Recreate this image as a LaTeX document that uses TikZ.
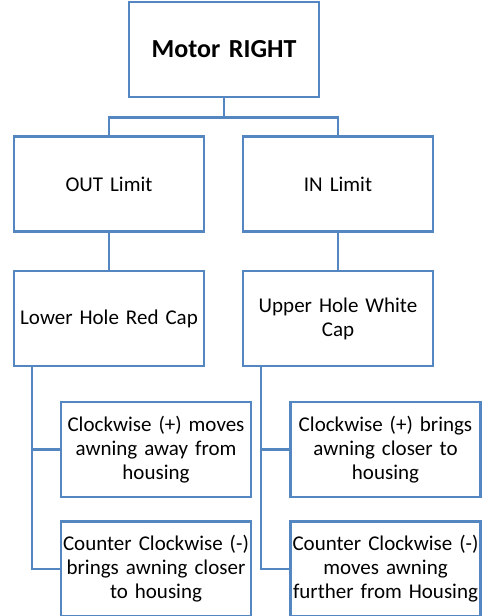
\documentclass[tikz,border=0pt]{standalone}
\usepackage{fontspec}
\setmainfont{Carlito}
\usetikzlibrary{positioning}

\begin{document}
\begin{tikzpicture}[x=1pt,y=1pt,node distance=3cm,on grid,
  box/.style={draw=boxblue,line width=2.5pt,rectangle,minimum width=190pt,
    minimum height=95pt,text width=186pt,inner sep=0pt,align=center,
    font=\fontsize{21}{24}\selectfont},
  link/.style={draw=boxblue,line width=2.5pt}]
  \definecolor{boxblue}{RGB}{84,134,193}
  \useasboundingbox (0,0) rectangle (483,-616);

  \node[box,font=\fontsize{26}{30}\selectfont\bfseries] (top) at (224,-49.5) {Motor RIGHT};

  \node[box] (out) [below left=134.5pt and 115pt of top] {OUT Limit};
  \node[box] (in)  [right=229pt of out] {IN Limit};

  \node[box] (lower) [below=134.5pt of out] {Lower Hole Red Cap};
  \node[box] (upper) [below=134.5pt of in]  {Upper Hole White\\Cap};

  \node[box] (cwl)  [below right=131pt and 47pt of lower] {Clockwise (+) moves\\awning away from\\housing};
  \node[box] (ccwl) [below=119.5pt of cwl] {Counter Clockwise (-)\\brings awning closer\\to housing};
  \node[box] (cwr)  [below right=131pt and 47.5pt of upper] {Clockwise (+) brings\\awning closer to\\housing};
  \node[box] (ccwr) [below=119.5pt of cwr] {Counter Clockwise (-)\\moves awning\\further from Housing};

  % top level
  \draw[link] (top.south) -- ++(0,-19) -| (out.north);
  \draw[link] (top.south) -- ++(0,-19) -| (in.north);
  \draw[link] (out) -- (lower);
  \draw[link] (in) -- (upper);
  % spines
  \draw[link] ([xshift=19pt]lower.south west) |- (cwl.west);
  \draw[link] ([xshift=19pt]lower.south west) |- (ccwl.west);
  \draw[link] ([xshift=19pt]upper.south west) |- (cwr.west);
  \draw[link] ([xshift=19pt]upper.south west) |- (ccwr.west);
\end{tikzpicture}
\end{document}
